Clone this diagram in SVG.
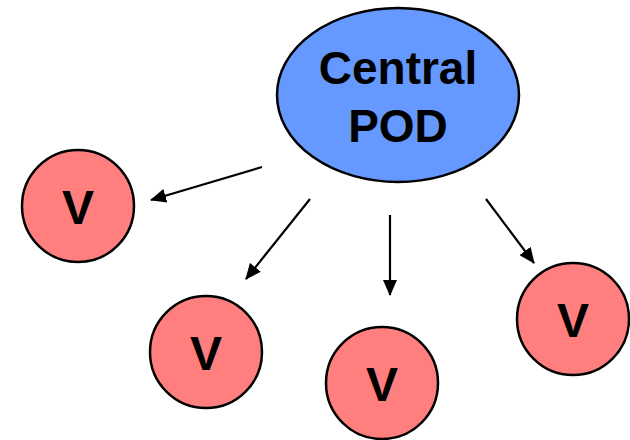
<svg xmlns="http://www.w3.org/2000/svg" width="630" height="440" viewBox="0 0 630 440">
<style>
.pod{fill:#6699FF;stroke:#000;stroke-width:2.5}
.v{fill:#FF7F7F;stroke:#000;stroke-width:2.5}
text{font-family:"Liberation Sans",Arial,sans-serif;font-weight:bold;fill:#000;text-anchor:middle}
.big{font-size:46px}
.vt{font-size:48px}
.edge{stroke:#000;stroke-width:2.2;fill:none;marker-end:url(#ah)}
</style>
<defs>
<marker id="ah" viewBox="0 0 16 14" refX="15" refY="7" markerWidth="16" markerHeight="14" markerUnits="userSpaceOnUse" orient="auto">
<path d="M0,0 L16,7 L0,14 z" fill="#000"/>
</marker>
</defs>
<rect width="630" height="440" fill="#fff"/>
<g id="central">
<ellipse class="pod" cx="398" cy="95" rx="121" ry="87"/>
<text class="big" x="398" y="84">Central</text>
<text class="big" x="398" y="142">POD</text>
</g>
<g id="v1"><circle class="v" cx="78" cy="206" r="56"/><text class="vt" x="78" y="224">V</text></g>
<g id="v2"><circle class="v" cx="206" cy="352" r="56"/><text class="vt" x="206" y="370">V</text></g>
<g id="v3"><circle class="v" cx="382" cy="383" r="56"/><text class="vt" x="382" y="401">V</text></g>
<g id="v4"><circle class="v" cx="573" cy="319" r="56"/><text class="vt" x="573" y="337">V</text></g>
<g id="connectors">
<line class="edge" x1="262" y1="167" x2="151" y2="200"/>
<line class="edge" x1="310" y1="199" x2="246" y2="279"/>
<line class="edge" x1="390" y1="215" x2="390" y2="295"/>
<line class="edge" x1="486" y1="199" x2="534" y2="263"/>
</g>
</svg>
